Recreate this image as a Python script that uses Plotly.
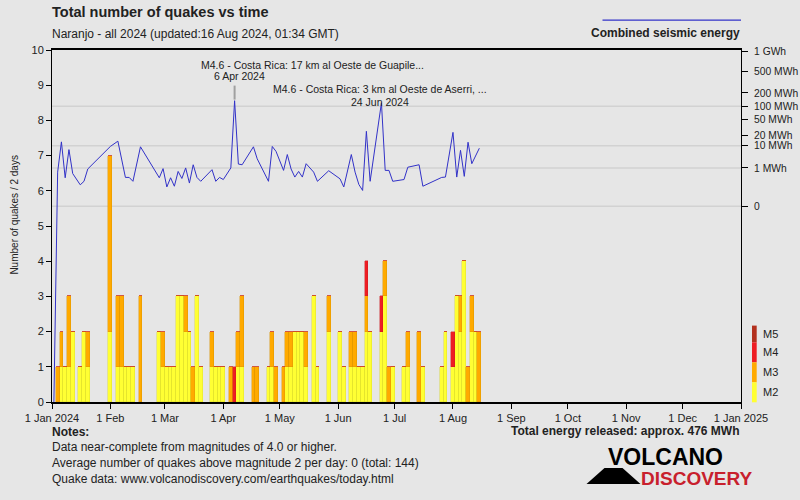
import plotly.graph_objects as go
import pandas as pd

START = pd.Timestamp("2024-01-01")

# ---- bar data: 2-day bins (bin index -> bin start = 2*index days after 1 Jan 2024)
bin_index = [1, 2, 3, 4, 5, 7, 8, 9, 15, 17,
             18, 19, 20, 21, 23, 28, 29, 30, 31, 32,
             33, 34, 35, 36, 37, 38, 39, 42, 43, 44,
             45, 47, 48, 49, 50, 53, 54, 57, 58, 59,
             61, 62, 63, 64, 65, 66, 67, 69, 70, 73,
             76, 77, 79, 80, 81, 82, 83, 84, 87, 88,
             89, 90, 93, 94, 97, 98, 103, 104, 106, 107,
             108, 109, 110, 111, 112, 113]
m2_counts = [0, 1, 1, 1, 2, 1, 2, 1, 2, 1,
             1, 1, 1, 1, 0, 2, 1, 1, 1, 1,
             3, 3, 2, 2, 0, 3, 1, 1, 1, 1,
             1, 0, 0, 1, 1, 0, 0, 1, 1, 0,
             0, 1, 1, 2, 2, 2, 1, 3, 1, 2,
             2, 1, 1, 1, 1, 1, 2, 2, 2, 3,
             0, 1, 1, 1, 0, 1, 1, 2, 1, 3,
             2, 4, 0, 2, 2, 0]
m3_counts = [1, 1, 0, 2, 0, 0, 0, 1, 5, 2,
             2, 0, 0, 0, 3, 0, 1, 0, 0, 0,
             0, 0, 1, 0, 1, 0, 0, 1, 0, 0,
             0, 1, 0, 1, 2, 1, 1, 0, 1, 1,
             1, 1, 1, 0, 0, 0, 1, 0, 0, 1,
             0, 0, 1, 1, 0, 0, 1, 0, 0, 1,
             1, 0, 0, 1, 2, 0, 0, 0, 0, 0,
             1, 0, 1, 1, 0, 2]
m4_counts = [0, 0, 0, 0, 0, 0, 0, 0, 0, 0,
             0, 0, 0, 0, 0, 0, 0, 0, 0, 0,
             0, 0, 0, 0, 0, 0, 0, 0, 0, 0,
             0, 0, 1, 0, 0, 0, 0, 0, 0, 0,
             0, 0, 0, 0, 0, 0, 0, 0, 0, 0,
             0, 0, 0, 0, 0, 0, 1, 0, 1, 0,
             0, 0, 0, 0, 0, 0, 0, 0, 1, 0,
             0, 0, 0, 0, 0, 0]

# ---- combined seismic energy line (day of year offset, position on 0-10 scale)
energy_day = [1, 3, 5, 7, 9, 11, 15, 17, 19, 31, 35, 39, 41, 43, 47,
              57, 59, 61, 63, 65, 67, 69, 71, 73, 75, 77, 79,
              85, 87, 89, 91, 95, 97, 99, 101, 107, 109,
              115, 117, 119, 123, 125, 127, 129, 131, 133, 135, 139, 141,
              147, 153, 155, 159, 161, 163, 165, 167, 169,
              175, 177, 179, 181, 187, 189, 195, 197, 207, 209,
              213, 215, 217, 219, 221, 223, 227]
energy_level = [0.0, 6.53, 7.39, 6.37, 7.17, 6.49, 6.17, 6.27, 6.62, 7.26, 7.41, 6.38, 6.38, 6.27, 7.25,
                6.37, 6.63, 6.11, 6.37, 6.13, 6.55, 6.35, 6.65, 6.22, 6.74, 6.38, 6.27,
                6.60, 6.27, 6.38, 6.32, 6.65, 8.56, 6.76, 6.74, 7.25, 6.91,
                6.27, 7.26, 7.12, 6.58, 7.03, 6.62, 6.39, 6.55, 6.39, 6.77, 6.53, 6.27,
                6.57, 6.34, 6.11, 7.03, 6.53, 6.18, 6.01, 7.69, 6.27,
                8.50, 6.58, 6.58, 6.27, 6.32, 6.67, 6.74, 6.13, 6.38, 6.39,
                7.66, 6.39, 7.15, 6.41, 7.38, 6.77, 7.21]

# ---- right axis (energy) ticks
energy_tick_pos = [9.97, 9.38, 8.78, 8.40, 8.02, 7.58, 7.28, 6.65, 5.56]
energy_tick_text = ["1 GWh", "500 MWh", "200 MWh", "100 MWh", "50 MWh",
                    "20 MWh", "10 MWh", "1 MWh", "0"]
energy_grid_pos = [8.40, 7.28, 6.65, 5.56]

# ---- x axis ticks
month_ticks = pd.date_range("2024-01-01", "2025-01-01", freq="MS")
month_labels = ["1 Jan 2024", "1 Feb", "1 Mar", "1 Apr", "1 May", "1 Jun", "1 Jul",
                "1 Aug", "1 Sep", "1 Oct", "1 Nov", "1 Dec", "1 Jan 2025"]

mag_labels = ["M5", "M4", "M3", "M2"]
mag_colors = ["#b3301e", "#ee1d23", "#ffaa00", "#ffff33"]

YELLOW, ORANGE, RED = "#ffff33", "#ffaa00", "#ee1d23"
FONT = "Liberation Sans"
TXT = "#222222"
BLUE = "#3232c8"

bin_centers = [START + pd.Timedelta(days=2 * b + 1) for b in bin_index]
energy_x = [START + pd.Timedelta(days=d) for d in energy_day]
bar_w = 2 * 86400000

fig = go.Figure()
for vals, col, edge, nm in [(m2_counts, YELLOW, "#d8d82a", "M2"), (m3_counts, ORANGE, "#d89000", "M3"),
                            (m4_counts, RED, "#c8181e", "M4")]:
    fig.add_trace(go.Bar(x=bin_centers, y=vals, width=bar_w,
                         marker=dict(color=col, line=dict(width=0.4, color=edge)),
                         name=nm, showlegend=False, hoverinfo="skip"))
fig.add_trace(go.Scatter(x=energy_x, y=energy_level, mode="lines", yaxis="y2",
                         line=dict(color=BLUE, width=1), showlegend=False, hoverinfo="skip"))

# pixel -> paper helpers
L, R, T, B = 52, 741, 50.4, 402.4
def px(x):
    return (x - L) / (R - L)
def py(y):
    return (B - y) / (B - T)

shapes = []
for g in energy_grid_pos:
    shapes.append(dict(type="line", xref="paper", yref="y", x0=0, x1=1, y0=g, y1=g,
                       line=dict(color="#d2d2d2", width=1.5), layer="below"))
# connector for first annotation
spike_day = START + pd.Timedelta(days=97)
shapes.append(dict(type="line", xref="x", yref="paper", x0=spike_day, x1=spike_day,
                   y0=py(86), y1=py(100), line=dict(color="#a0a0a0", width=2)))
# legend line for energy
shapes.append(dict(type="line", xref="paper", yref="paper", x0=px(602.5), x1=px(741),
                   y0=py(20.5), y1=py(20.5), line=dict(color=BLUE, width=1.3)))
# magnitude colour legend
mag_edges = [326, 342.7, 362.7, 382.7, 402.7]
for i, c in enumerate(mag_colors):
    shapes.append(dict(type="rect", xref="paper", yref="paper", x0=px(752), x1=px(756.7),
                       y0=py(mag_edges[i + 1]), y1=py(mag_edges[i]), fillcolor=c, line=dict(width=0)))
# volcano logo shape
shapes.append(dict(type="path", xref="paper", yref="paper",
                   path="M {} {} L {} {} L {} {} L {} {} Z".format(px(586.5), py(484.5), px(604.5), py(468.5),
                                                                   px(622.5), py(468.5), px(640.5), py(484.5)),
                   fillcolor="#000000", line=dict(width=0)))

ann = []
def text(x, y, s, size=12, bold=False, color=TXT, xanchor="left", family=FONT, angle=0):
    ann.append(dict(xref="paper", yref="paper", x=px(x), y=py(y), text=("<b>%s</b>" % s) if bold else s,
                    showarrow=False, xanchor=xanchor, yanchor="middle", textangle=angle,
                    borderpad=0, font=dict(size=size, color=color, family=family)))

text(51, 12.5, "Total number of quakes vs time", 14.5, True)
text(51, 34, "Naranjo - all 2024 (updated:16 Aug 2024, 01:34 GMT)", 12)
text(741, 33, "Combined seismic energy", 12, True, xanchor="right")
text(200, 65, "M4.6 - Costa Rica: 17 km al Oeste de Guapile...", 10.5)
text(239, 76, "6 Apr 2024", 10.5, xanchor="center")
text(380, 89, "M4.6 - Costa Rica: 3 km al Oeste de Aserri, ...", 10.5, xanchor="center")
text(380, 102, "24 Jun 2024", 10.5, xanchor="center")
text(15, 215, "Number of quakes / 2 days", 10, xanchor="center", angle=-90)
for lab, y0, y1 in zip(mag_labels, mag_edges[:-1], mag_edges[1:]):
    text(762, (y0 + y1) / 2, lab, 11)
text(51, 432, "Notes:", 12, True)
text(51, 447, "Data near-complete from magnitudes of 4.0 or higher.", 12)
text(51, 463, "Average number of quakes above magnitude 2 per day: 0 (total: 144)", 12)
text(51, 479.5, "Quake data: www.volcanodiscovery.com/earthquakes/today.html", 12)
text(741, 431.5, "Total energy released: approx. 476 MWh", 12, True, xanchor="right")
text(665, 457.5, "VOLCANO", 23, True, "#000000", "center")
text(697, 479, "DISCOVERY", 19, True, "#c8202c", "center")

fig.update_layout(
    width=800, height=500,
    margin=dict(l=L, r=800 - R, t=T, b=500 - B, autoexpand=False),
    paper_bgcolor="#e6e6e6", plot_bgcolor="#e6e6e6",
    barmode="stack", bargap=0,
    font=dict(family=FONT, size=11, color=TXT),
    shapes=shapes, annotations=ann,
    xaxis=dict(type="date", range=[START, pd.Timestamp("2025-01-01")], automargin=False,
               tickvals=month_ticks, ticktext=month_labels, ticks="outside", ticklen=5,
               tickcolor="#000000", showline=True, linecolor="#000000", linewidth=1.5, mirror=True,
               showgrid=False, zeroline=False, tickfont=dict(size=11, color=TXT)),
    yaxis=dict(range=[0, 10], dtick=1, ticks="outside", ticklen=5, tickcolor="#000000", automargin=False,
               showline=True, linecolor="#000000", linewidth=1, showgrid=False, zeroline=False,
               tickfont=dict(size=11, color=TXT)),
    yaxis2=dict(range=[0, 10], overlaying="y", side="right", tickmode="array", automargin=False,
                tickvals=energy_tick_pos, ticktext=energy_tick_text, ticks="outside", ticklen=6,
                tickcolor="#000000", showline=True, linecolor="#000000", linewidth=1,
                showgrid=False, zeroline=False, ticklabelstandoff=4,
                tickfont=dict(size=10.3, color=TXT)),
)

fig.write_html("out.html", config={"displayModeBar": False},
               post_script="document.body.style.margin='0';")
